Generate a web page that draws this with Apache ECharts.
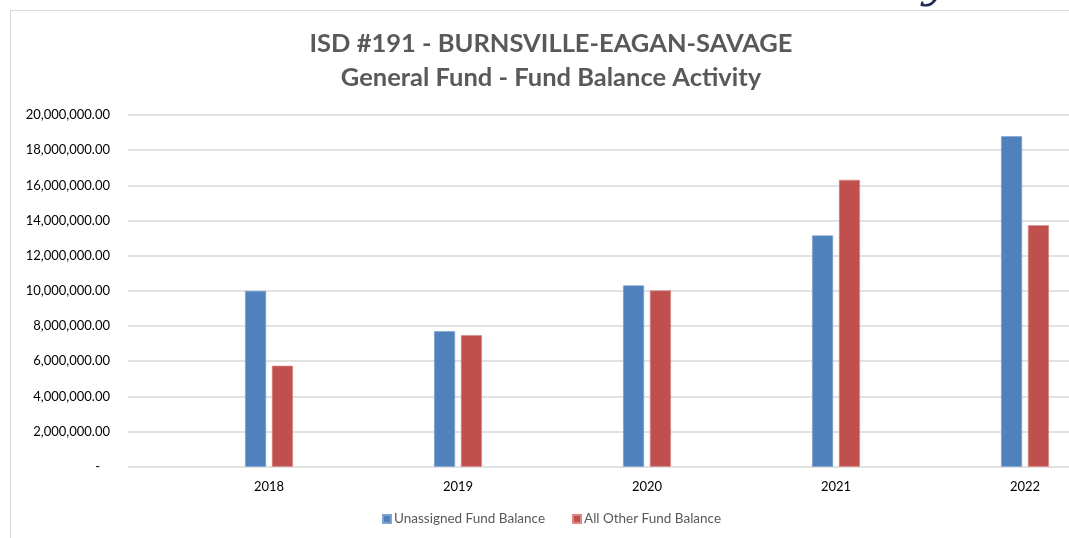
<!DOCTYPE html>
<html>
<head>
<meta charset="utf-8">
<script src="https://cdn.jsdelivr.net/npm/echarts@6/dist/echarts.min.js"></script>
<style>
html,body{margin:0;padding:0;background:#fff;overflow:hidden;width:1069px;height:538px;}
#chart{width:1130px;height:538px;}
</style>
</head>
<body>
<div id="chart"></div>
<script>
var titleLines = ['ISD #191 - BURNSVILLE-EAGAN-SAVAGE', 'General Fund - Fund Balance Activity'];
var categories = ['2018', '2019', '2020', '2021', '2022'];
var seriesNames = ['Unassigned Fund Balance', 'All Other Fund Balance'];
var unassigned = [10000000, 7710000, 10310000, 13150000, 18790000];
var allOther = [5740000, 7480000, 10020000, 16310000, 13730000];
var yMin = 0, yMax = 20000000, yStep = 2000000;

var chart = echarts.init(document.getElementById('chart'));
var FONT = 'Lato, "Open Sans", sans-serif';
var top0 = 115, bottom0 = 466.7;

chart.setOption({
  backgroundColor: '#fff',
  animation: false,
  title: {
    text: titleLines.join('\n'),
    left: 546, top: 22, textAlign: 'center',
    textStyle: { fontFamily: FONT, fontWeight: 'bold', fontSize: 25.5, color: '#595959', lineHeight: 34 }
  },
  graphic: [
    { type: 'rect', shape: { x: 10.5, y: 10.5, width: 1200, height: 700 }, style: { fill: 'none', stroke: '#d9d9d9', lineWidth: 1 }, silent: true },
    { type: 'text', left: 922, top: -36, style: { text: 'y', font: 'italic 44px "DejaVu Serif", serif', fill: '#1f2a4f' }, silent: true }
  ],
  legend: {
    data: seriesNames,
    left: 377, top: 507,
    itemWidth: 8, itemHeight: 8, itemGap: 27,
    icon: 'rect',
    textStyle: { fontFamily: FONT, fontSize: 13.5, color: '#595959', padding: [0, 0, 0, -2] }
  },
  grid: [
    { left: 128, top: top0, width: 1130 - 128, height: bottom0 - top0, containLabel: false },
    { left: 174.5, top: top0, width: 945, height: bottom0 - top0, containLabel: false }
  ],
  xAxis: [
    { type: 'category', gridIndex: 0, data: [''], show: false },
    { type: 'category', gridIndex: 1, data: categories,
      axisLine: { show: false }, axisTick: { show: false },
      axisLabel: { fontFamily: FONT, fontSize: 13, color: '#000', margin: 14 } }
  ],
  yAxis: [
    { type: 'value', gridIndex: 0, min: yMin, max: yMax, interval: yStep,
      axisLine: { show: false }, axisTick: { show: false },
      splitLine: { lineStyle: { color: '#d9d9d9', width: 1.5 } },
      axisLabel: { fontFamily: FONT, fontSize: 13, color: '#000', margin: 18,
        formatter: function (v) { return v === 0 ? '-   ' : v.toLocaleString('en-US', { minimumFractionDigits: 2, maximumFractionDigits: 2 }); } } },
    { type: 'value', gridIndex: 1, min: yMin, max: yMax, interval: yStep, show: false, splitLine: { show: false } }
  ],
  series: [
    { name: seriesNames[0], type: 'bar', xAxisIndex: 1, yAxisIndex: 1, data: unassigned,
      barWidth: 21, barGap: '28%', itemStyle: { color: '#4F81BD', borderColor: '#7fa3d1', borderWidth: 0.6 } },
    { name: seriesNames[1], type: 'bar', xAxisIndex: 1, yAxisIndex: 1, data: allOther,
      barWidth: 21, barGap: '28%', itemStyle: { color: '#C0504D', borderColor: '#d98a88', borderWidth: 0.6 } }
  ]
});
</script>
</body>
</html>
